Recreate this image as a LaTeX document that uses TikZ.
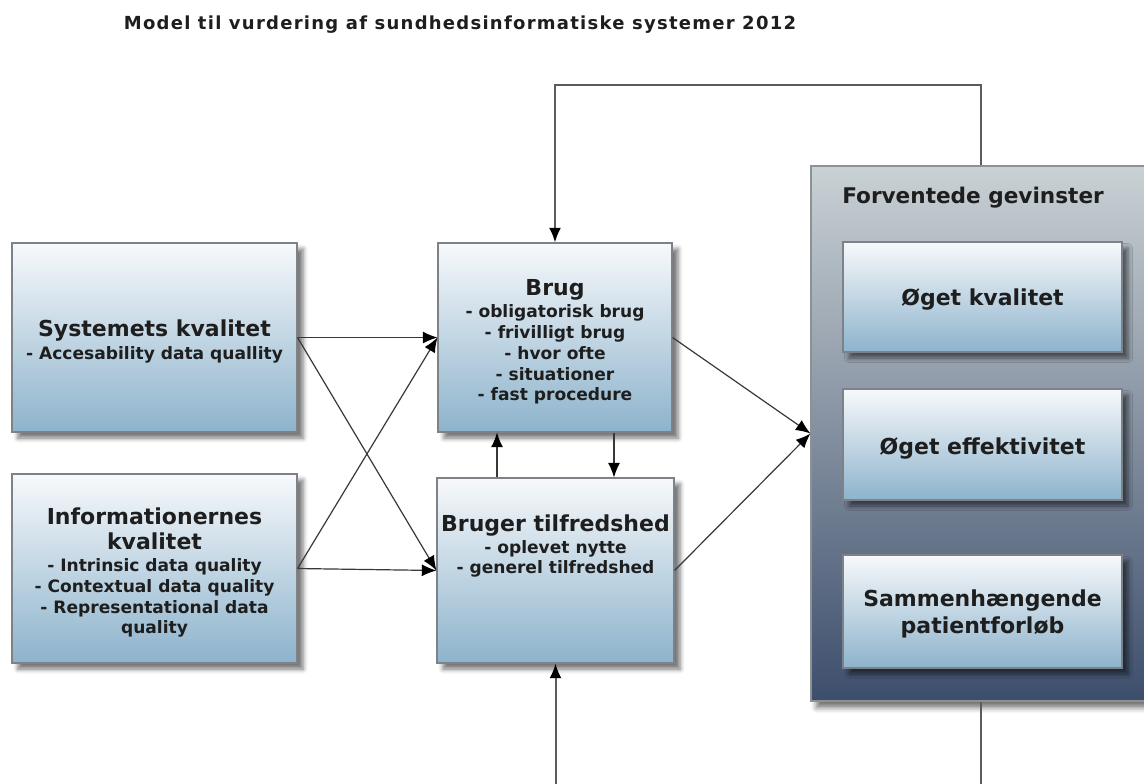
\documentclass[tikz,border=0pt]{standalone}
\usepackage{fontspec}
\setmainfont{DejaVu Sans}
\newfontfamily\titlefont{DejaVu Sans}[LetterSpace=7]
\usetikzlibrary{arrows.meta,shadows.blur,calc}

\definecolor{boxtop}{HTML}{F7F9FB}
\definecolor{boxbot}{HTML}{8DB3CC}
\definecolor{boxline}{HTML}{7C8288}
\definecolor{paneltop}{HTML}{C9D1D4}
\definecolor{panelbot}{HTML}{3D4E6C}
\definecolor{panelline}{HTML}{8C9294}
\definecolor{ink}{HTML}{1E1E1E}
\definecolor{wire}{HTML}{383838}
\definecolor{fbwire}{HTML}{5C5C5C}

\newcommand\boxhead{\fontsize{16.5}{19}\selectfont\bfseries}
\newcommand\boxsub{\fontsize{12.8}{15.6}\selectfont\bfseries}

\tikzset{
  wh/.style 2 args={minimum width=#1*0.75pt, minimum height=#2*0.75pt},
  box/.style={draw=boxline, line width=0.8pt, top color=boxtop, bottom color=boxbot,
    rectangle, inner sep=0pt,
    blur shadow={shadow xshift=4.5pt, shadow yshift=-4.5pt, shadow blur radius=3.5pt, shadow opacity=55}},
  panel/.style={draw=panelline, line width=0.8pt, top color=paneltop, bottom color=panelbot,
    rectangle, inner sep=0pt,
    blur shadow={shadow xshift=4pt, shadow yshift=-5pt, shadow blur radius=4pt, shadow opacity=55}},
  lbl/.style={text=ink, align=center, inner sep=0pt, font=\boxsub},
  conn/.style={draw=wire, line width=0.9pt, -{Latex[length=11pt,width=9pt,color=black]}},
  fb/.style={draw=fbwire, line width=1.5pt, -{Latex[length=11pt,width=9pt,color=black]}},
}

\begin{document}
\begin{tikzpicture}[x=0.75pt, y=-0.75pt]
\useasboundingbox (0,0) rectangle (1144,783);
\clip (0,0) rectangle (1144,783);

% heading
\node[anchor=base, text=ink, inner sep=0pt, font=\titlefont\fontsize{13.5}{16}\selectfont\bfseries] (title) at (460,29)
  {Model til vurdering af sundhedsinformatiske systemer 2012};

% expected gains panel
\node[panel, wh={340}{535}] (gev) at (981,433.5) {};
\node[anchor=base west, text=ink, inner sep=0pt, font=\fontsize{16.2}{19}\selectfont\bfseries] (gevh) at (842,203)
  {Forventede gevinster};
\node[box, wh={279}{110}] (k1) at (982.5,297) {};
\node[box, wh={279}{111}] (k2) at (982.5,444.5) {};
\node[box, wh={279}{113}] (k3) at (982.5,611.5) {};
\node[lbl] (k1t) at ($(k1.center)+(0,2)$) {\boxhead Øget kvalitet};
\node[lbl] (k2t) at ($(k2.center)+(0,4)$) {\boxhead Øget effektivitet};
\node[lbl] (k3t) at ($(k3.center)+(0,2.5)$) {\boxhead Sammenhængende\\[3.3pt]\boxhead patientforløb};

% quality boxes
\node[box, wh={285}{189}] (sys) at (154.5,337.5) {};
\node[lbl] (syst) at ($(sys.center)+(0,4)$)
  {\boxhead Systemets kvalitet\\[1pt] - Accesability data quallity};
\node[box, wh={285}{189}] (info) at (154.5,568.5) {};
\node[lbl] (infot) at ($(info.center)+(0,4)$)
  {\boxhead Informationernes\\[3.3pt]\boxhead kvalitet\\[1pt]
   - Intrinsic data quality\\ - Contextual data quality\\ - Representational data\\ quality};

% use and satisfaction
\node[box, wh={234}{189}] (brug) at (555,337.5) {};
\node[lbl] (brugt) at ($(brug.center)+(0,4.5)$)
  {\boxhead Brug\\[1pt] - obligatorisk brug\\ - frivilligt brug\\ - hvor ofte\\ - situationer\\ - fast procedure};
\node[box, wh={237}{185}] (tilf) at (555.5,570.5) {};
\node[lbl] (tilft) at ($(tilf.center)+(0,-24.5)$)
  {\boxhead Bruger tilfredshed\\[1pt] - oplevet nytte\\ - generel tilfredshed};

% influences
\draw[conn] (sys.east) -- (brug.west);
\draw[conn] (sys.east) -- (tilf.west);
\draw[conn] (info.east) -- (brug.west);
\draw[conn] (info.east) -- (tilf.west);
\draw[conn] (brug.east) -- (gev.west);
\draw[conn] (tilf.east) -- (gev.west);

\coordinate (dnx) at (614,0);
\coordinate (upx) at (497,0);
\draw[conn] (brug.south -| dnx) -- (tilf.north -| dnx);
\draw[conn] (tilf.north -| upx) -- (brug.south -| upx);

% feedback loops
\coordinate (tr) at (981,85);
\coordinate (tl) at (555,85);
\draw[fb] (gev.north) -- (tr) -- (tl) -- (brug.north);
\coordinate (br) at (981,784.5);
\coordinate (bl) at (555.5,784.5);
\draw[fb] (gev.south) -- (br) -- (bl) -- (tilf.south);
\end{tikzpicture}
\end{document}
